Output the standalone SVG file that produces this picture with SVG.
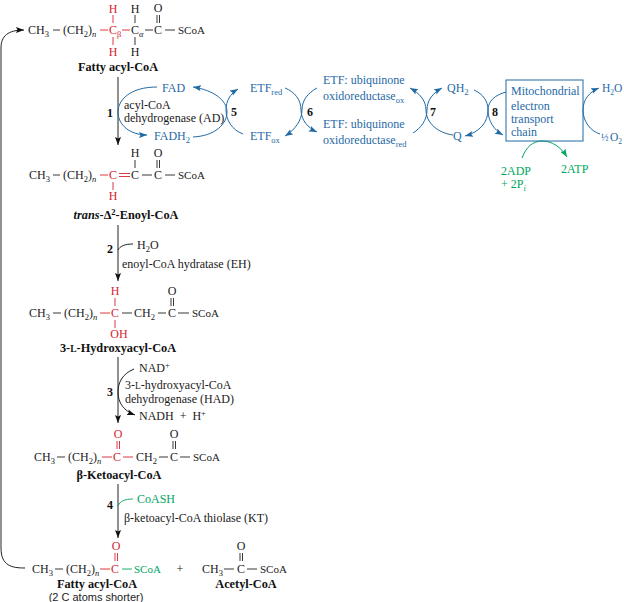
<svg xmlns="http://www.w3.org/2000/svg" width="624" height="602" viewBox="0 0 624 602">
<defs>
<marker id="ak" markerWidth="9" markerHeight="7" refX="8" refY="3" orient="auto" markerUnits="userSpaceOnUse"><path d="M0 0L8 3L0 6L1.500 3Z" fill="#111"/></marker>
<marker id="ab" markerWidth="9" markerHeight="7" refX="8" refY="3" orient="auto" markerUnits="userSpaceOnUse"><path d="M0 0L8 3L0 6L1.500 3Z" fill="#1f6aa5"/></marker>
<marker id="ag" markerWidth="9" markerHeight="7" refX="8" refY="3" orient="auto" markerUnits="userSpaceOnUse"><path d="M0 0L8 3L0 6L1.500 3Z" fill="#00a560"/></marker>
</defs>
<style>
text{font-family:"Liberation Serif","DejaVu Serif",serif;font-size:12px;fill:#1a1a1a}
.r{fill:#d8232f}.b{fill:#1f6aa5}.g{fill:#00a560}
.t{font-weight:bold;font-size:12.300px;text-anchor:middle;fill:#111}
.n{font-weight:bold;font-size:12px;text-anchor:middle;fill:#111}
.m{text-anchor:middle}
.s{font-size:8.500px}
.c{font-size:11px}
.sb{font-family:"Liberation Sans",sans-serif;font-size:11px;text-anchor:middle;fill:#222}
.k,.kr,.kg,.cb,.cg,.ck{fill:none}
.k{stroke:#222;stroke-width:.9}.kr{stroke:#d8232f;stroke-width:.9}.kg{stroke:#00a560;stroke-width:.9}
.cb{stroke:#1f6aa5;stroke-width:1}.cg{stroke:#00a560;stroke-width:1}.ck{stroke:#222;stroke-width:1}
</style>

<g id="connectors">
<path class="ck" d="M25 568C12 568 1 566 1 548V48C1 36 8 30 24 30" marker-end="url(#ak)"/>
<line class="ck" x1="118" y1="77" x2="118" y2="145" marker-end="url(#ak)"/>
<line class="ck" x1="118" y1="225" x2="118" y2="281" marker-end="url(#ak)"/>
<line class="ck" x1="118" y1="357" x2="118" y2="423" marker-end="url(#ak)"/>
<line class="ck" x1="118" y1="484" x2="118" y2="538" marker-end="url(#ak)"/>
<path class="ck" d="M118 250C120 246 125 244 133 244"/>
<path class="ck" d="M134 369C122 374 118 383 118 392C118 403 124 411 135 415" marker-end="url(#ak)"/>
<path class="kg" d="M118 506C120 501 125 499 133 499"/>
<path class="cb" d="M157 87C130 87 118 100 118 112C118 125 130 135 147 135" marker-end="url(#ab)"/>
<path class="cb" d="M193 137C215 136 227 124 227 112C227 100 213 90 193 87" marker-end="url(#ab)"/>
<path class="cb" d="M243 134C232 130 226 120 226 110C226 101 230 94 238 89" marker-end="url(#ab)"/>
<path class="cb" d="M285 88C295 92 301 100 301 110C301 120 308 128 317 132" marker-end="url(#ab)"/>
<path class="cb" d="M317 88C308 93 302 100 302 110C302 120 295 130 285 136" marker-end="url(#ab)"/>
<path class="cb" d="M413 133C421 128 427 120 427 110C427 100 433 93 442 88" marker-end="url(#ab)"/>
<path class="cb" d="M453 135C438 133 426 123 426 110C426 100 419 93 410 88" marker-end="url(#ab)"/>
<path class="cb" d="M474 90C483 94 488 101 488 110C488 121 494 130 503 135" marker-end="url(#ab)"/>
<path class="cb" d="M506 92C495 95 488 101 488 110C488 122 480 132 465 136" marker-end="url(#ab)"/>
<path class="cb" d="M600 134C590 131 583 121 583 110C583 100 589 92 599 88" marker-end="url(#ab)"/>
<path class="cg" d="M522 158C526 147 533 141 542 141C552 141 561 147 567 157" marker-end="url(#ag)"/>
</g>

<g id="fatty-acyl-coa">
<text x="28" y="34">CH<tspan class="s" dy="3">3</tspan></text>
<line class="k" x1="53" y1="30" x2="60" y2="30"/>
<text x="63" y="34">(CH<tspan class="s" dy="3">2</tspan><tspan dy="-3">)</tspan><tspan class="s" dy="3" font-style="italic">n</tspan></text>
<line class="kr" x1="100" y1="30" x2="108" y2="30"/>
<text class="r" x="109" y="34">C<tspan class="s" dy="3">β</tspan></text>
<line class="kr" x1="122" y1="30" x2="130" y2="30"/>
<text x="131" y="34">C<tspan class="s" dy="3" font-style="italic">α</tspan></text>
<line class="k" x1="145" y1="30" x2="153" y2="30"/>
<text class="m" x="158" y="34">C</text>
<line class="k" x1="165" y1="30" x2="175" y2="30"/>
<text class="c" x="178" y="34">SCoA</text>
<text class="m r" x="113" y="13">H</text><line class="kr" x1="113" y1="15" x2="113" y2="23"/>
<text class="m" x="135" y="13">H</text><line class="k" x1="135" y1="15" x2="135" y2="23"/>
<text class="m" x="158" y="12">O</text><line class="k" x1="157" y1="15" x2="157" y2="23"/><line class="k" x1="159.500" y1="15" x2="159.500" y2="23"/>
<line class="kr" x1="113" y1="37" x2="113" y2="45"/><text class="m r" x="113" y="56">H</text>
<line class="k" x1="135" y1="37" x2="135" y2="45"/><text class="m" x="135" y="56">H</text>
<text class="t" x="118" y="71">Fatty acyl-CoA</text>
</g>

<g id="enoyl-coa">
<text x="29" y="179">CH<tspan class="s" dy="3">3</tspan></text>
<line class="k" x1="53" y1="175" x2="60" y2="175"/>
<text x="63" y="179">(CH<tspan class="s" dy="3">2</tspan><tspan dy="-3">)</tspan><tspan class="s" dy="3" font-style="italic">n</tspan></text>
<line class="kr" x1="100" y1="175" x2="108" y2="175"/>
<text class="m r" x="113" y="179">C</text>
<line class="kr" x1="119" y1="173.500" x2="130" y2="173.500"/><line class="kr" x1="119" y1="176.500" x2="130" y2="176.500"/>
<text class="m" x="135" y="179">C</text>
<line class="k" x1="142" y1="175" x2="152" y2="175"/>
<text class="m" x="158" y="179">C</text>
<line class="k" x1="165" y1="175" x2="175" y2="175"/>
<text class="c" x="178" y="179">SCoA</text>
<text class="m" x="135" y="157">H</text><line class="k" x1="135" y1="160" x2="135" y2="168"/>
<text class="m" x="158" y="157">O</text><line class="k" x1="157" y1="160" x2="157" y2="168"/><line class="k" x1="159.500" y1="160" x2="159.500" y2="168"/>
<line class="kr" x1="113" y1="182" x2="113" y2="190"/><text class="m r" x="113" y="200">H</text>
<text class="t" x="126" y="219"><tspan font-style="italic">trans</tspan>-Δ<tspan class="s" dy="-4">2</tspan><tspan dy="4">-Enoyl-CoA</tspan></text>
</g>

<g id="hydroxyacyl-coa">
<text x="29" y="317">CH<tspan class="s" dy="3">3</tspan></text>
<line class="k" x1="53" y1="313" x2="61" y2="313"/>
<text x="64" y="317">(CH<tspan class="s" dy="3">2</tspan><tspan dy="-3">)</tspan><tspan class="s" dy="3" font-style="italic">n</tspan></text>
<line class="kr" x1="100" y1="313" x2="110" y2="313"/>
<text class="m r" x="115" y="317">C</text>
<line class="k" x1="122" y1="313" x2="132" y2="313"/>
<text x="134" y="317">CH<tspan class="s" dy="3">2</tspan></text>
<line class="k" x1="158" y1="313" x2="166" y2="313"/>
<text class="m" x="172" y="317">C</text>
<line class="k" x1="178" y1="313" x2="189" y2="313"/>
<text class="c" x="192" y="317">SCoA</text>
<text class="m r" x="115" y="295">H</text><line class="kr" x1="115" y1="298" x2="115" y2="306"/>
<text class="m" x="172" y="295">O</text><line class="k" x1="171" y1="298" x2="171" y2="306"/><line class="k" x1="173.500" y1="298" x2="173.500" y2="306"/>
<line class="kr" x1="115" y1="320" x2="115" y2="328"/><text class="m r" x="119" y="338">OH</text>
<text class="t" x="118" y="352">3-<tspan font-size="9.500">L</tspan>-Hydroxyacyl-CoA</text>
</g>

<g id="ketoacyl-coa">
<text x="34" y="461">CH<tspan class="s" dy="3">3</tspan></text>
<line class="k" x1="57" y1="457" x2="65" y2="457"/>
<text x="68" y="461">(CH<tspan class="s" dy="3">2</tspan><tspan dy="-3">)</tspan><tspan class="s" dy="3" font-style="italic">n</tspan></text>
<line class="kr" x1="102" y1="457" x2="112" y2="457"/>
<text class="m r" x="117" y="461">C</text>
<line class="kr" x1="123" y1="457" x2="133" y2="457"/>
<text x="136" y="461">CH<tspan class="s" dy="3">2</tspan></text>
<line class="k" x1="159" y1="457" x2="168" y2="457"/>
<text class="m" x="174" y="461">C</text>
<line class="k" x1="180" y1="457" x2="190" y2="457"/>
<text class="c" x="193" y="461">SCoA</text>
<text class="m r" x="118" y="438">O</text><line class="kr" x1="117" y1="441" x2="117" y2="449"/><line class="kr" x1="119.500" y1="441" x2="119.500" y2="449"/>
<text class="m" x="174" y="438">O</text><line class="k" x1="173" y1="441" x2="173" y2="449"/><line class="k" x1="175.500" y1="441" x2="175.500" y2="449"/>
<text class="t" x="119" y="479">β-Ketoacyl-CoA</text>
</g>

<g id="shorter-fatty-acyl-coa">
<text x="32" y="573">CH<tspan class="s" dy="3">3</tspan></text>
<line class="k" x1="55" y1="569" x2="63" y2="569"/>
<text x="66" y="573">(CH<tspan class="s" dy="3">2</tspan><tspan dy="-3">)</tspan><tspan class="s" dy="3" font-style="italic">n</tspan></text>
<line class="kr" x1="100" y1="569" x2="110" y2="569"/>
<text class="m r" x="115" y="573">C</text>
<line class="kg" x1="122" y1="569" x2="132" y2="569"/>
<text class="g c" x="134" y="573">SCoA</text>
<text class="m r" x="116" y="550">O</text><line class="kr" x1="115" y1="553" x2="115" y2="561"/><line class="kr" x1="117.500" y1="553" x2="117.500" y2="561"/>
<text class="t" x="97" y="588">Fatty acyl-CoA</text>
<text class="sb" x="96" y="601">(2 C atoms shorter)</text>
</g>
<g id="plus"><text class="m" x="180" y="573">+</text></g>
<g id="acetyl-coa">
<text x="202" y="573">CH<tspan class="s" dy="3">3</tspan></text>
<line class="k" x1="224" y1="569" x2="234" y2="569"/>
<text class="m" x="241" y="573">C</text>
<line class="k" x1="247" y1="569" x2="257" y2="569"/>
<text class="c" x="260" y="573">SCoA</text>
<text class="m" x="241" y="550">O</text><line class="k" x1="240" y1="553" x2="240" y2="561"/><line class="k" x1="242.500" y1="553" x2="242.500" y2="561"/>
<text class="t" x="246" y="588">Acetyl-CoA</text>
</g>

<g id="steps">
<text class="n" x="110" y="117">1</text>
<text class="n" x="110" y="253">2</text>
<text class="n" x="110" y="396">3</text>
<text class="n" x="110" y="509">4</text>
<text class="n" x="234" y="116">5</text>
<text class="n" x="310" y="116">6</text>
<text class="n" x="433" y="116">7</text>
<text class="n" x="495" y="116">8</text>
</g>

<g id="enzyme-ad"><text x="124" y="109">acyl-CoA</text><text x="124" y="122">dehydrogenase (AD)</text></g>
<g id="enzyme-eh"><text x="137" y="249">H<tspan class="s" dy="3">2</tspan><tspan dy="-3">O</tspan></text><text x="122" y="268">enoyl-CoA hydratase (EH)</text></g>
<g id="enzyme-had">
<text x="139" y="372">NAD<tspan class="s" dy="-4">+</tspan></text>
<text x="125" y="389">3-<tspan font-size="9.500">L</tspan>-hydroxyacyl-CoA</text>
<text x="125" y="403">dehydrogenase (HAD)</text>
<text x="139" y="420" xml:space="preserve">NADH  +  H<tspan class="s" dy="-4">+</tspan></text>
</g>
<g id="enzyme-kt"><text class="g" x="137" y="503">CoASH</text><text x="124" y="522">β-ketoacyl-CoA thiolase (KT)</text></g>

<g id="fad"><text class="b" x="162" y="92">FAD</text></g>
<g id="fadh2"><text class="b" x="154" y="140">FADH<tspan class="s" dy="3">2</tspan></text></g>
<g id="etf-red"><text class="b" x="250" y="92">ETF<tspan class="s" dy="3">red</tspan></text></g>
<g id="etf-ox"><text class="b" x="250" y="140">ETF<tspan class="s" dy="3">ox</tspan></text></g>
<g id="etf-qo-ox"><text class="b" x="323" y="84">ETF: ubiquinone</text><text class="b" x="323" y="100">oxidoreductase<tspan class="s" dy="3">ox</tspan></text></g>
<g id="etf-qo-red"><text class="b" x="323" y="128">ETF: ubiquinone</text><text class="b" x="323" y="144">oxidoreductase<tspan class="s" dy="3">red</tspan></text></g>
<g id="qh2"><text class="b" x="447" y="92">QH<tspan class="s" dy="3">2</tspan></text></g>
<g id="q"><text class="b" x="453" y="140">Q</text></g>
<g id="etc">
<rect x="506" y="80" width="77" height="61" fill="none" stroke="#1f6aa5" stroke-width="1"/>
<text class="b" x="511" y="95">Mitochondrial</text><text class="b" x="511" y="110">electron</text><text class="b" x="511" y="123">transport</text><text class="b" x="511" y="136">chain</text>
</g>
<g id="h2o"><text class="b" x="602" y="92" font-size="11.500" style="font-size:11.500px">H<tspan style="font-size:7.500px" dy="3">2</tspan><tspan dy="-3">O</tspan></text></g>
<g id="half-o2"><text class="b" x="601" y="141" style="font-size:10px">½</text><text class="b" x="610" y="141" style="font-size:11.500px">O<tspan style="font-size:7.500px" dy="3">2</tspan></text></g>
<g id="adp"><text class="g" x="501" y="175">2ADP</text><text class="g" x="501" y="188">+ 2P<tspan class="s" dy="3" font-style="italic">i</tspan></text></g>
<g id="atp"><text class="g" x="561" y="173">2ATP</text></g>
</svg>
